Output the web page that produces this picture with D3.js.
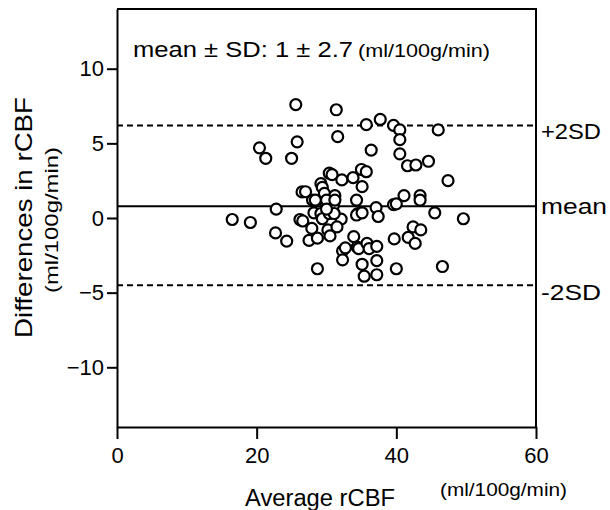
<!DOCTYPE html>
<meta charset="utf-8">
<head>
<style>
  body { margin: 0; background: #fff; }
  svg text { font-family: "Liberation Sans", Arial, sans-serif; fill: #000; }
  .axis text { font-size: 22px; }
  .axis path, .axis line { stroke: #000; stroke-width: 2px; }
</style>
<script src="https://d3js.org/d3.v7.min.js"></script>
</head>
<body>
<svg width="610" height="510"></svg>
<script>
// Bland-Altman points: average rCBF vs difference
var avgRCBF = [16.5, 19.1, 20.4, 21.3, 22.8, 22.7, 24.3, 25.0, 25.8, 25.6,
               26.5, 26.2, 26.6, 28.0, 28.2, 27.9, 27.5, 28.7, 28.7, 29.2,
               29.4, 29.7, 29.9, 29.2, 29.4, 30.4, 30.2, 30.5, 30.4, 30.8,
               31.2, 31.0, 31.4, 31.6, 32.2, 32.1, 31.5, 32.3, 32.3, 33.8,
               34.3, 35.0, 35.7, 35.1, 34.5, 34.3, 35.1, 33.9, 34.4, 34.6,
               35.1, 35.4, 35.8, 36.1, 35.7, 36.4, 37.1, 37.4, 37.2, 37.2,
               37.2, 37.7, 39.6, 39.6, 40.0, 39.7, 40.0, 40.5, 40.5, 40.5,
               41.6, 42.8, 41.1, 41.7, 42.4, 42.7, 43.4, 43.4, 43.5, 44.6,
               45.5, 46.0, 46.6, 47.4, 49.6, 30.0, 31.1, 31.2, 30.0, 28.4,
               32.7, 27.0];
var diffRCBF = [-0.1, -0.3, 4.7, 4.0, 0.6, -1.0, -1.55, 4.0, 5.1, 7.6,
                1.75, -0.1, -0.2, 1.2, 0.35, -0.7, -1.5, -1.35, -3.4, 2.3,
                2.05, 1.65, 1.0, 0.3, -0.05, 0.3, -0.8, -1.2, 3.0, 2.9,
                1.5, 0.85, 7.25, 5.45, 2.55, -0.07, -0.6, -2.2, -2.8, 2.7,
                1.2, 3.25, 3.1, 2.1, 0.3, 0.2, 0.35, -1.25, -1.95, -2.05,
                -3.1, -3.9, -1.7, -2.05, 6.25, 4.55, 0.7, 0.1, -1.9, -2.85,
                -3.8, 6.6, 6.2, 0.9, 0.95, -1.4, -3.4, 5.9, 5.25, 4.3,
                3.5, 3.55, 1.5, -1.3, -0.6, -1.7, 1.5, 1.2, -0.8, 3.8,
                0.35, 5.9, -3.25, 2.5, -0.05, 1.2, 0.3, 1.2, 0.6, 1.2,
                -2.0, 1.76];

// reference lines: mean and mean +/- 2SD
var refNames = ["+2SD", "mean", "-2SD"];
var refValues = [6.2, 0.78, -4.5];

var xTicks = [0, 20, 40, 60];
var yTicks = [-10, -5, 0, 5, 10];

var svg = d3.select("svg");

var x = d3.scaleLinear().domain([0, 60]).range([117, 536]);
var y = d3.scaleLinear().domain([-14, 14]).range([427, 9]);

// frame (top and right edges)
svg.append("path")
    .attr("d", "M" + x(0) + "," + y(14) + "H" + x(60) + "V" + y(-14))
    .attr("fill", "none")
    .attr("stroke", "#000")
    .attr("stroke-width", 2);

// axes
var xAxis = d3.axisBottom(x).tickValues(xTicks).tickSize(12).tickPadding(8).tickSizeOuter(0);
svg.append("g")
    .attr("class", "axis")
    .attr("transform", "translate(0," + y(-14) + ")")
    .call(xAxis);

var yAxis = d3.axisLeft(y).tickValues(yTicks).tickSize(10).tickPadding(3).tickSizeOuter(0);
svg.append("g")
    .attr("class", "axis")
    .attr("transform", "translate(" + x(0) + ",0)")
    .call(yAxis);

// reference lines
svg.append("g").selectAll("line")
    .data(refValues)
    .enter().append("line")
        .attr("x1", x(0))
        .attr("x2", x(60))
        .attr("y1", function(d) { return y(d); })
        .attr("y2", function(d) { return y(d); })
        .attr("stroke", "#000")
        .attr("stroke-width", 2)
        .attr("stroke-dasharray", function(d, i) { return i == 1 ? null : "6,4"; });

svg.append("g").selectAll("text")
    .data(refNames)
    .enter().append("text")
        .attr("x", x(60) + 5)
        .attr("y", function(d, i) { return y(refValues[i]) + [14, 8, 15][i]; })
        .attr("font-size", 22)
        .attr("textLength", function(d) { return d == "mean" ? 66 : 60; })
        .attr("lengthAdjust", "spacingAndGlyphs")
        .text(function(d) { return d; });

// points
svg.append("g").selectAll("circle")
    .data(avgRCBF)
    .enter().append("circle")
        .attr("cx", function(d) { return x(d); })
        .attr("cy", function(d, i) { return y(diffRCBF[i]); })
        .attr("r", 5.5)
        .attr("fill", "#fff")
        .attr("stroke", "#000")
        .attr("stroke-width", 2.2);

// annotation
svg.append("text")
    .attr("x", 133).attr("y", 57)
    .attr("font-size", 22)
    .attr("textLength", 220)
    .attr("lengthAdjust", "spacingAndGlyphs")
    .text("mean \u00b1 SD: 1 \u00b1 2.7");
svg.append("text")
    .attr("x", 358).attr("y", 57)
    .attr("font-size", 19)
    .attr("textLength", 132)
    .attr("lengthAdjust", "spacingAndGlyphs")
    .text("(ml/100g/min)");

// axis titles
svg.append("text")
    .attr("x", 245).attr("y", 506)
    .attr("font-size", 23)
    .attr("textLength", 150)
    .attr("lengthAdjust", "spacingAndGlyphs")
    .text("Average rCBF");
svg.append("text")
    .attr("x", 440).attr("y", 496)
    .attr("font-size", 19)
    .attr("textLength", 127)
    .attr("lengthAdjust", "spacingAndGlyphs")
    .text("(ml/100g/min)");

svg.append("text")
    .attr("transform", "translate(32,338) rotate(-90)")
    .attr("font-size", 24)
    .attr("textLength", 241)
    .attr("lengthAdjust", "spacingAndGlyphs")
    .text("Differences in rCBF");
svg.append("text")
    .attr("transform", "translate(58,293) rotate(-90)")
    .attr("font-size", 19)
    .attr("textLength", 146)
    .attr("lengthAdjust", "spacingAndGlyphs")
    .text("(ml/100g/min)");
</script>
</body>
